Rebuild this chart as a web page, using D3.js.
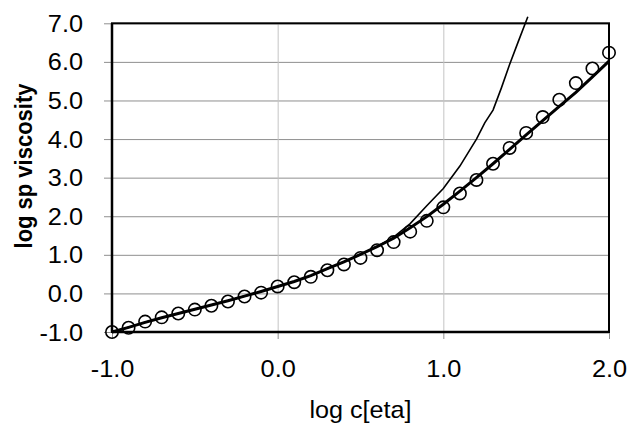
<!DOCTYPE html>
<html>
<head>
<meta charset="utf-8">
<script src="https://cdn.jsdelivr.net/npm/d3@7"></script>
<style>
  body { margin: 0; background: #fff; }
  svg { display: block; font-family: Arial, "Liberation Sans", sans-serif; }
</style>
</head>
<body>
<svg id="chart" width="629" height="424"></svg>
<script>
// ---- data ----
const xTicks = [-1.0, 0.0, 1.0, 2.0]
const yTicks = [-1.0, 0.0, 1.0, 2.0, 3.0, 4.0, 5.0, 6.0, 7.0]

const logC = [-1.0, -0.9, -0.8, -0.7, -0.6, -0.5, -0.4, -0.3, -0.2, -0.1,
               0.0,  0.1,  0.2,  0.3,  0.4,  0.5,  0.6,  0.7,  0.8,  0.9,
               1.0,  1.1,  1.2,  1.3,  1.4,  1.5,  1.6,  1.7,  1.8,  1.9, 2.0]

// measured points (open circles)
const measured = [-1.00, -0.89, -0.73, -0.62, -0.52, -0.42, -0.32, -0.21, -0.08, 0.02,
                   0.18,  0.29,  0.43,  0.60,  0.75,  0.92,  1.12,  1.33,  1.60, 1.88,
                   2.23,  2.59,  2.94,  3.36,  3.77,  4.16,  4.57,  5.02,  5.45, 5.83, 6.24]

// heavy curve
const heavyFit = [-1.00, -0.88, -0.75, -0.63, -0.52, -0.41, -0.30, -0.19, -0.07, 0.05,
                   0.18,  0.31,  0.46,  0.64,  0.82,  1.01,  1.21,  1.43,  1.70, 1.99,
                   2.31,  2.65,  3.00,  3.36,  3.73,  4.11,  4.48,  4.85,  5.21, 5.61, 6.02]

// light curve (runs off the top)
const lightX = [-1.0, -0.9, -0.8, -0.7, -0.6, -0.5, -0.4, -0.3, -0.2, -0.1,
                 0.0,  0.1,  0.2,  0.3,  0.4,  0.5,  0.6,  0.7,  0.8,  0.9,
                 1.0,  1.1,  1.2,  1.25, 1.3,  1.35, 1.4,  1.45, 1.51]
const lightY = [-1.00, -0.88, -0.75, -0.63, -0.52, -0.41, -0.30, -0.19, -0.07, 0.05,
                 0.18,  0.31,  0.46,  0.64,  0.82,  1.01,  1.22,  1.46,  1.81, 2.27,
                 2.72,  3.30,  4.00,  4.42,  4.75,  5.32,  5.93,  6.50,  7.17]

// ---- layout ----
const svg = d3.select("#chart")
const plotL = 112, plotR = 609, plotT = 23.3, plotB = 332
const FONT = "Arial, 'Liberation Sans', sans-serif"

const x = d3.scaleLinear().domain([-1, 2]).range([plotL, plotR])
const y = d3.scaleLinear().domain([-1, 7]).range([plotB, plotT])

// horizontal grid
svg.append("g")
    .attr("transform", `translate(${plotL},0)`)
    .call(d3.axisLeft(y).tickValues(yTicks).tickSize(-(plotR - plotL)).tickFormat(""))
    .call(g => g.select(".domain").remove())
    .call(g => g.selectAll("line").attr("stroke", "#8f8f8f").attr("stroke-width", 1))

// vertical grid
svg.append("g")
    .attr("transform", `translate(0,${plotB})`)
    .call(d3.axisBottom(x).tickValues(xTicks).tickSize(-(plotB - plotT)).tickFormat(""))
    .call(g => g.select(".domain").remove())
    .call(g => g.selectAll("line").attr("stroke", "#c4c4c4").attr("stroke-width", 1))

// y axis ticks + labels (text slightly stretched sideways like the original)
svg.append("g")
    .attr("transform", `translate(${plotL},0)`)
    .call(d3.axisLeft(y).tickValues(yTicks).tickSize(8).tickFormat(d => d.toFixed(1)))
    .call(g => g.select(".domain").remove())
    .call(g => g.selectAll("line").attr("stroke", "#8f8f8f"))
    .call(g => g.selectAll("text")
        .attr("x", 0).attr("dy", "0.35em")
        .attr("transform", "translate(-29,0) scale(1.1,1)")
        .attr("font-size", 23).attr("font-family", FONT)
        .attr("fill", "#000"))

// x axis ticks + labels
svg.append("g")
    .attr("transform", `translate(0,${plotB})`)
    .call(d3.axisBottom(x).tickValues(xTicks).tickSize(7).tickFormat(d => d.toFixed(1)))
    .call(g => g.select(".domain").remove())
    .call(g => g.selectAll("line").attr("stroke", "#8f8f8f"))
    .call(g => g.selectAll("text")
        .attr("y", 0).attr("dy", 0)
        .attr("transform", "translate(0,45) scale(1.1,1)")
        .attr("font-size", 23).attr("font-family", FONT)
        .attr("fill", "#000"))

// frame
svg.append("rect")
    .attr("x", plotL).attr("y", plotT)
    .attr("width", plotR - plotL).attr("height", plotB - plotT)
    .attr("fill", "none").attr("stroke", "#000").attr("stroke-width", 2)
svg.append("line").attr("x1", plotL).attr("x2", plotL).attr("y1", plotT).attr("y2", plotB)
    .attr("stroke", "#000").attr("stroke-width", 2.5)
svg.append("line").attr("x1", plotL).attr("x2", plotR).attr("y1", plotB).attr("y2", plotB)
    .attr("stroke", "#000").attr("stroke-width", 2.5)

// circles
svg.append("g")
    .selectAll("circle")
    .data(logC.map((c, i) => [c, measured[i]]))
    .join("circle")
    .attr("cx", d => x(d[0]))
    .attr("cy", d => y(d[1]))
    .attr("r", 6.2)
    .attr("fill", "none")
    .attr("stroke", "#000")
    .attr("stroke-width", 1.6)

const line = d3.line().x(d => x(d[0])).y(d => y(d[1]))

// light curve
svg.append("path")
    .datum(lightX.map((c, i) => [c, lightY[i]]))
    .attr("d", line)
    .attr("fill", "none").attr("stroke", "#000").attr("stroke-width", 1.6)

// heavy curve
svg.append("path")
    .datum(logC.map((c, i) => [c, heavyFit[i]]))
    .attr("d", line)
    .attr("fill", "none").attr("stroke", "#000").attr("stroke-width", 3)

// axis titles
svg.append("text")
    .attr("transform", `translate(${(plotL + plotR) / 2},418) scale(1.05,1)`)
    .attr("text-anchor", "middle")
    .attr("font-size", 24)
    .text("log c[eta]")

svg.append("text")
    .attr("transform", "translate(32,166) rotate(-90) scale(1,1.1)")
    .attr("text-anchor", "middle")
    .attr("font-size", 22)
    .attr("font-weight", "bold")
    .text("log sp viscosity")
</script>
</body>
</html>
